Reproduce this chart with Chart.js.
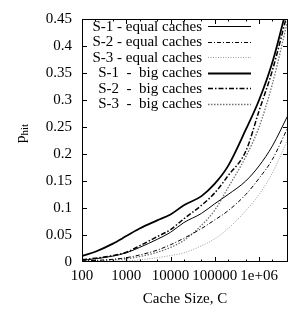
<!DOCTYPE html>
<html>
<head>
<meta charset="utf-8">
<script src="https://cdn.jsdelivr.net/npm/chart.js@4.4.1/dist/chart.umd.min.js"></script>
<style>
  html, body { margin: 0; padding: 0; background: #fff; }
  canvas { display: block; }
</style>
</head>
<body>
<canvas id="hitChart" width="289" height="312"></canvas>
<script>
// Cache sizes (x) at which the curves are sampled
const cacheSizes = [100, 200, 500, 1000, 2000, 5000, 1e4, 2e4, 5e4, 1e5, 2e5, 5e5, 1e6, 2e6, 4.5e6];

// hit probability per scheme
const s1Equal = [0.003, 0.006, 0.011, 0.017, 0.027, 0.042, 0.055, 0.073, 0.090, 0.108, 0.125, 0.150, 0.178, 0.215, 0.272];
const s2Equal = [0.002, 0.003, 0.005, 0.008, 0.013, 0.022, 0.032, 0.044, 0.062, 0.078, 0.095, 0.125, 0.155, 0.190, 0.250];
const s3Equal = [0.0005, 0.001, 0.0015, 0.002, 0.004, 0.008, 0.012, 0.017, 0.030, 0.043, 0.062, 0.095, 0.125, 0.165, 0.228];
const s1Big   = [0.011, 0.019, 0.034, 0.048, 0.062, 0.077, 0.088, 0.105, 0.122, 0.145, 0.178, 0.245, 0.300, 0.370, 0.480];
const s2Big   = [0.004, 0.007, 0.012, 0.018, 0.030, 0.047, 0.060, 0.080, 0.105, 0.128, 0.160, 0.205, 0.280, 0.355, 0.465];
const s3Big   = [0.001, 0.002, 0.004, 0.006, 0.010, 0.018, 0.027, 0.040, 0.068, 0.096, 0.138, 0.195, 0.250, 0.330, 0.450];

const seriesLabels = ['S-1 - equal caches', 'S-2 - equal caches', 'S-3 - equal caches',
                      'S-1  -  big caches', 'S-2  -  big caches', 'S-3  -  big caches'];

// axis ticks
const xTickValues = [100, 1000, 1e4, 1e5, 1e6];
const xTickLabels = ['100', '1000', '10000', '100000', '1e+06'];
const xMinorTicks = [200, 500, 2000, 5000, 2e4, 5e4, 2e5, 5e5, 2e6];
const yTickValues = [0, 0.05, 0.1, 0.15, 0.2, 0.25, 0.3, 0.35, 0.4, 0.45];
const yTickLabels = ['0', '0.05', '0.1', '0.15', '0.2', '0.25', '0.3', '0.35', '0.4', '0.45'];

const FONT = '"Liberation Serif", "DejaVu Serif", serif';

const toPoints = (values) => values.map((v, i) => ({ x: cacheSizes[i], y: v }));

const makeSet = (label, values, color, width, dash) => ({
    label: label,
    data: toPoints(values),
    borderColor: color,
    borderWidth: width,
    borderDash: dash,
    pointRadius: 0,
    fill: false,
    cubicInterpolationMode: 'monotone'
});

// frame with inward ticks, gnuplot style
const framePlugin = {
    id: 'frame',
    afterDraw(chart) {
        const { ctx, chartArea: a, scales } = chart;
        ctx.save();
        ctx.strokeStyle = '#000';
        ctx.lineWidth = 1;
        ctx.strokeRect(a.left + 0.5, a.top + 0.5, a.right - a.left - 1, a.bottom - a.top - 1);
        ctx.beginPath();
        const xTick = (v, len) => {
            const px = Math.round(scales.x.getPixelForValue(v)) + 0.5;
            ctx.moveTo(px, a.bottom); ctx.lineTo(px, a.bottom - len);
            ctx.moveTo(px, a.top); ctx.lineTo(px, a.top + len);
        };
        xTickValues.forEach(v => xTick(v, 5));
        xMinorTicks.forEach(v => xTick(v, 2.5));
        yTickValues.slice(1, -1).forEach(v => {
            const py = Math.round(scales.y.getPixelForValue(v)) + 0.5;
            ctx.moveTo(a.left, py); ctx.lineTo(a.left + 5, py);
            ctx.moveTo(a.right, py); ctx.lineTo(a.right - 5, py);
        });
        ctx.stroke();

        // y title: p with subscript "hit"
        ctx.fillStyle = '#000';
        ctx.translate(25, 143);
        ctx.rotate(-Math.PI / 2);
        ctx.textBaseline = 'alphabetic';
        ctx.textAlign = 'left';
        ctx.font = '15px ' + FONT;
        ctx.fillText('p', 0, 0);
        const pw = ctx.measureText('p').width;
        ctx.font = '11px ' + FONT;
        ctx.fillText('hit', pw, 3);
        ctx.restore();
    }
};

// key in the upper left, text right aligned before the sample line
const keyPlugin = {
    id: 'key',
    afterDatasetsDraw(chart) {
        const { ctx } = chart;
        ctx.save();
        ctx.font = '15px ' + FONT;
        ctx.textAlign = 'right';
        ctx.textBaseline = 'middle';
        ctx.fillStyle = '#000';
        chart.data.datasets.forEach((ds, i) => {
            const y = 26 + i * 15.5;
            ctx.fillText(ds.label, 202, y + 1);
            ctx.beginPath();
            ctx.strokeStyle = ds.borderColor;
            ctx.lineWidth = ds.borderWidth;
            ctx.setLineDash(ds.borderDash);
            ctx.moveTo(208, Math.round(y) + 0.5);
            ctx.lineTo(251, Math.round(y) + 0.5);
            ctx.stroke();
        });
        ctx.restore();
    }
};

const initHitChart = () => {
    const ctx = document.getElementById('hitChart').getContext('2d');
    return new Chart(ctx, {
        type: 'line',
        data: {
            datasets: [
                makeSet(seriesLabels[0], s1Equal, '#000', 1, []),
                makeSet(seriesLabels[1], s2Equal, '#000', 1, [4, 2, 1, 2]),
                makeSet(seriesLabels[2], s3Equal, '#9a9a9a', 1, [1, 1.5]),
                makeSet(seriesLabels[3], s1Big, '#000', 1.8, []),
                makeSet(seriesLabels[4], s2Big, '#000', 1.5, [5, 2, 1.5, 2]),
                makeSet(seriesLabels[5], s3Big, '#707070', 1.3, [1.5, 1.5])
            ]
        },
        options: {
            responsive: false,
            animation: false,
            layout: { padding: { top: 12, right: 1, left: 0, bottom: 0 } },
            plugins: {
                legend: { display: false },
                tooltip: { enabled: false }
            },
            scales: {
                x: {
                    type: 'logarithmic',
                    min: 100,
                    max: 4.5e6,
                    grid: { display: false, drawTicks: false },
                    border: { display: false },
                    afterBuildTicks: (scale) => {
                        scale.ticks = xTickValues.map(v => ({ value: v }));
                    },
                    afterFit: (scale) => { scale.height = 50; },
                    ticks: {
                        autoSkip: false,
                        maxRotation: 0,
                        padding: 5,
                        color: '#000',
                        font: { family: FONT, size: 15 },
                        callback: (v) => xTickLabels[xTickValues.indexOf(v)] ?? ''
                    },
                    title: {
                        display: true,
                        text: 'Cache Size, C',
                        color: '#000',
                        font: { family: FONT, size: 15 },
                        padding: { top: 1, bottom: 4 }
                    }
                },
                y: {
                    min: 0,
                    max: 0.45,
                    grid: { display: false, drawTicks: false },
                    border: { display: false },
                    afterBuildTicks: (scale) => {
                        scale.ticks = yTickValues.map(v => ({ value: v }));
                    },
                    afterFit: (scale) => { scale.width = 82; },
                    ticks: {
                        padding: 10,
                        color: '#000',
                        font: { family: FONT, size: 15 },
                        callback: (v) => yTickLabels[yTickValues.indexOf(v)] ?? ''
                    }
                }
            }
        },
        plugins: [framePlugin, keyPlugin]
    });
};

document.addEventListener('DOMContentLoaded', () => {
    window.hitChart = initHitChart();
});
</script>
</body>
</html>
